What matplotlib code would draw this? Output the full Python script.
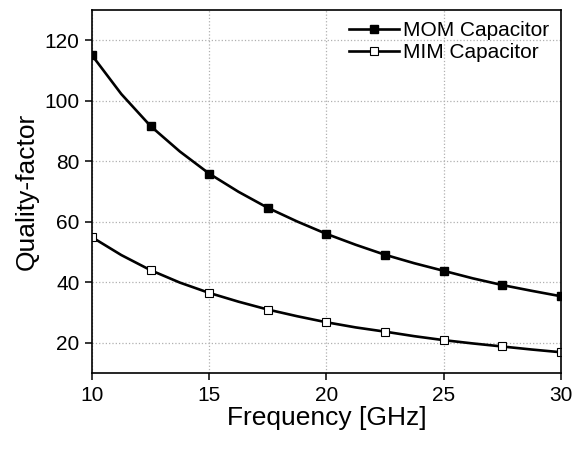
import matplotlib
matplotlib.use("Agg")
import matplotlib.pyplot as plt

plt.rcParams['font.family'] = ['Liberation Sans', 'DejaVu Sans']

# ------- Data ------- #
freq = [10, 11.25, 12.5, 13.75, 15, 16.25, 17.5, 18.75, 20,
        21.25, 22.5, 23.75, 25, 26.25, 27.5, 28.75, 30]
q_mom = [115.0, 102.2, 91.6, 83.2, 75.9, 69.9, 64.6, 60.1, 56.0,
         52.4, 49.1, 46.3, 43.8, 41.3, 39.1, 37.2, 35.4]
q_mim = [54.9, 49.0, 44.0, 39.9, 36.5, 33.6, 31.0, 28.8, 26.8,
         25.1, 23.7, 22.2, 20.9, 19.8, 18.8, 17.8, 16.9]
labels = ["MOM Capacitor", "MIM Capacitor"]

fig = plt.figure(figsize=(5.86, 4.49), dpi=100)
ax = fig.add_axes([0.157, 0.169, 0.8, 0.809])

ax.plot(freq, q_mom, color="black", linewidth=1.9, marker="s", markersize=6,
        markerfacecolor="black", markevery=2, label=labels[0])
ax.plot(freq, q_mim, color="black", linewidth=1.9, marker="s", markersize=6,
        markerfacecolor="white", markeredgewidth=0.8, markevery=2, label=labels[1])

ax.set_xlim(10, 30)
ax.set_ylim(10, 130)
ax.set_xticks([10, 15, 20, 25, 30])
ax.set_yticks([20, 40, 60, 80, 100, 120])
ax.grid(True, color="#b0b0b0", linestyle=":", linewidth=0.9)
ax.tick_params(direction="out", length=5, width=1.1, labelsize=15, pad=4)
for s in ax.spines.values():
    s.set_linewidth(1.2)

ax.set_xlabel("Frequency [GHz]", fontsize=19, labelpad=1)
ax.set_ylabel("Quality-factor", fontsize=19, labelpad=4)

ax.legend(loc="upper right", frameon=False, fontsize=15, handlelength=2.4,
          handletextpad=0.2, labelspacing=0.12, borderaxespad=0.05,
          borderpad=0.5)

fig.savefig("out.png", dpi=100)
